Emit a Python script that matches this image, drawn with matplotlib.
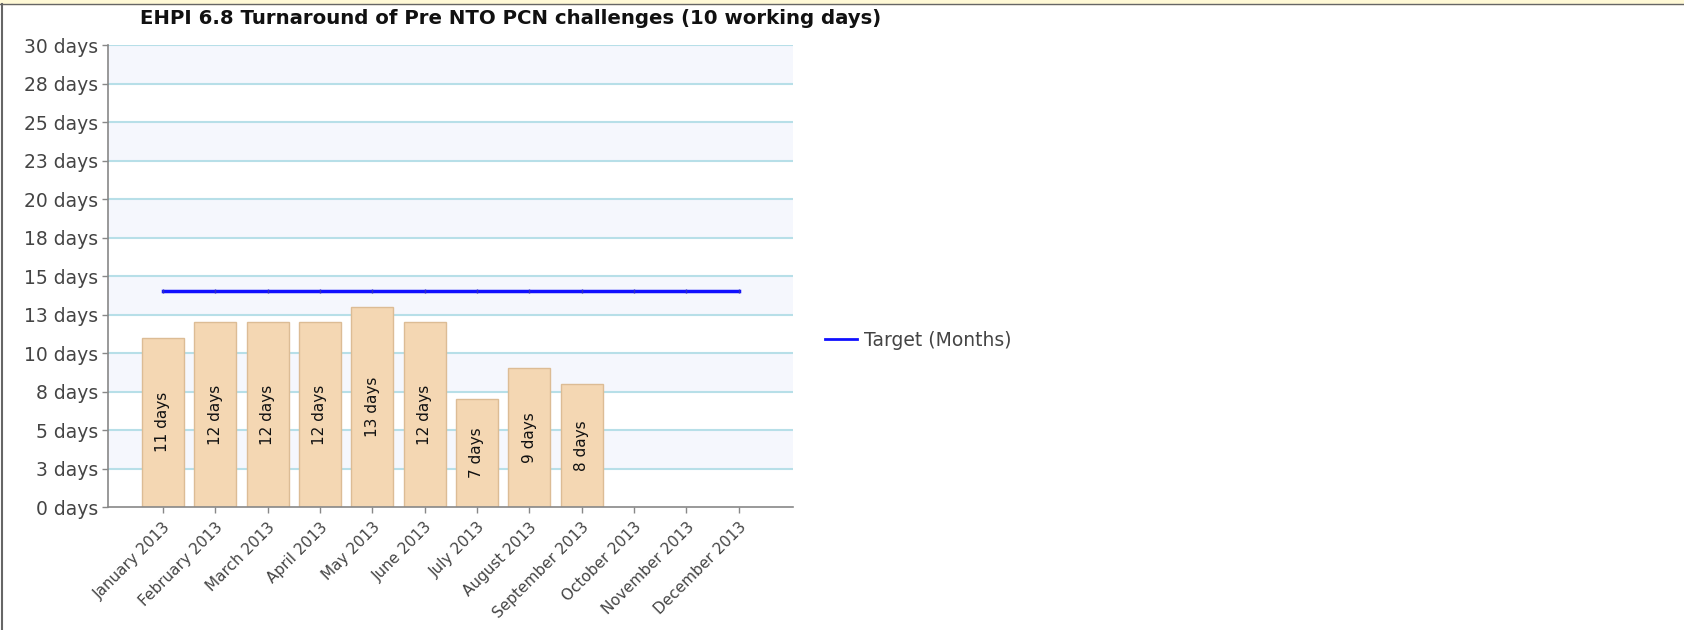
import numpy as np
import matplotlib
matplotlib.use('Agg')
import matplotlib.pyplot as plt
from matplotlib.lines import Line2D
from matplotlib.patches import Rectangle

# dados
meses = ['January 2013', 'February 2013', 'March 2013', 'April 2013', 'May 2013',
         'June 2013', 'July 2013', 'August 2013', 'September 2013', 'October 2013',
         'November 2013', 'December 2013']
dias = [11, 12, 12, 12, 13, 12, 7, 9, 8]
alvo = [14] * 12
yticks = [0, 2.5, 5, 7.5, 10, 12.5, 15, 17.5, 20, 22.5, 25, 27.5, 30]
ytick_labels = ['0 days', '3 days', '5 days', '8 days', '10 days', '13 days', '15 days',
                '18 days', '20 days', '23 days', '25 days', '28 days', '30 days']

fig = plt.figure(figsize=(16.84, 6.3), dpi=100)
ax = fig.add_axes([0.0644, 0.1952, 0.4063, 0.7333])

# faixas alternadas e grade
for i in range(0, len(yticks) - 1):
    if i % 2 == 1:
        ax.axhspan(yticks[i], yticks[i + 1], color='#f5f7fd', zorder=0, lw=0)
for t in yticks[1:]:
    ax.axhline(t, color='#b7dfe8', lw=1.5, zorder=1)

x = np.arange(len(meses))
barras = ax.bar(x[:len(dias)], dias, width=0.8, color='#f4d7b3', edgecolor='#dcbc95',
                linewidth=1, zorder=2)
for xi, v in zip(x, dias):
    ax.text(xi, v / 2, f'{v} days', rotation=90, ha='center', va='center',
            fontsize=11, color='#111111', zorder=3)

ax.plot(x, alvo, color='#1010ff', lw=2.5, marker='|', markersize=3,
        markeredgecolor='#3030c0', zorder=4)

ax.set_xlim(-1.04, 12.03)
ax.set_ylim(0, 30)
ax.set_yticks(yticks)
ax.set_yticklabels(ytick_labels, fontsize=13.5, color='#444444')
ax.set_xticks(x)
ax.set_xticklabels(meses, rotation=45, ha='right', rotation_mode='anchor',
                   fontsize=11, color='#444444')
ax.tick_params(axis='both', length=4, color='#888888', width=1)
ax.tick_params(axis='x', pad=5)
for s in ['top', 'right']:
    ax.spines[s].set_visible(False)
for s in ['left', 'bottom']:
    ax.spines[s].set_color('#888888')
    ax.spines[s].set_linewidth(1.2)

fig.text(0.303, 0.970, 'EHPI 6.8 Turnaround of Pre NTO PCN challenges (10 working days)',
         ha='center', va='center', fontsize=14.2, fontweight='bold', color='#111111')

# legenda
h = Line2D([], [], color='#1010ff', lw=2)
fig.legend([h], ['Target (Months)'], loc='center left', bbox_to_anchor=(0.480, 0.46),
           frameon=False, fontsize=13.5, handlelength=1.7, handletextpad=0.35,
           labelcolor='#444444')

# moldura superior e esquerda
fig.patches.append(Rectangle((0, 0.994), 1, 0.006, transform=fig.transFigure,
                             color='#fff9d6', zorder=0))
fig.lines.append(Line2D([0, 1], [0.9935, 0.9935], transform=fig.transFigure,
                        color='#666666', lw=1))
fig.lines.append(Line2D([0.0012, 0.0012], [0, 0.9935], transform=fig.transFigure,
                        color='#666666', lw=1.5))

plt.savefig('out.png', dpi=100)
